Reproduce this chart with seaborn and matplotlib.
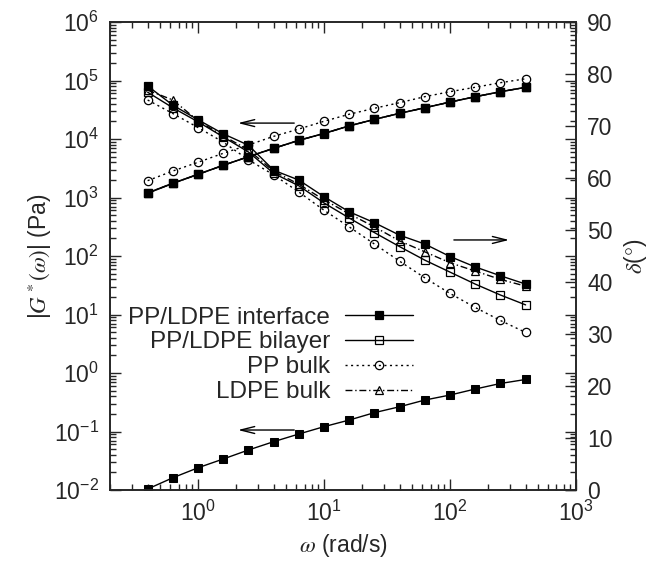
import matplotlib
matplotlib.use('Agg')
import matplotlib.pyplot as plt
import seaborn as sns
import pandas as pd
from matplotlib.ticker import LogLocator, NullFormatter, MultipleLocator

# angular frequency (rad/s)
omega = [0.398, 0.631, 1.0, 1.585, 2.512, 3.981, 6.310, 10.0,
         15.85, 25.12, 39.81, 63.10, 100.0, 158.5, 251.2, 398.1]

# |G*(omega)| in Pa (left axis)
gstar_interface = [1200, 1760, 2500, 3560, 5000, 6950, 9500, 12500,
                   16800, 21700, 27500, 34300, 42900, 52900, 64400, 76600]
gstar_bilayer = [1180, 1740, 2480, 3540, 4970, 6900, 9450, 12400,
                 16700, 21600, 27400, 34100, 42700, 52700, 64100, 76200]
gstar_pp = [1940, 2840, 4000, 5700, 7900, 11100, 14800, 20100,
            26500, 33500, 41800, 52900, 64400, 76600, 91700, 107000]
gstar_ldpe = [1190, 1750, 2490, 3550, 4990, 6920, 9480, 12450,
              16750, 21650, 27450, 34200, 42800, 52800, 64300, 76400]

# phase angle delta in degrees (right axis)
delta_interface = [77.7, 74.0, 71.2, 68.5, 66.3, 61.5, 59.6, 56.4,
                   53.5, 51.4, 49.0, 47.3, 44.9, 42.9, 41.2, 39.6]
delta_bilayer = [76.5, 73.5, 70.8, 67.9, 65.0, 60.9, 58.5, 55.2,
                 52.3, 49.5, 46.8, 44.2, 41.9, 39.6, 37.5, 35.6]
delta_pp = [75.0, 72.4, 69.7, 66.9, 63.5, 60.6, 57.3, 53.8,
            50.6, 47.3, 44.0, 40.8, 37.8, 35.1, 32.6, 30.3]
delta_ldpe = [76.9, 75.0, 71.0, 68.1, 65.4, 61.3, 58.8, 55.8,
              53.1, 50.6, 47.9, 45.8, 43.7, 42.1, 40.5, 39.2]

# lower curve on the left axis
gstar_low = [0.0104, 0.0162, 0.0240, 0.0339, 0.0483, 0.0670, 0.0906, 0.121,
             0.157, 0.210, 0.265, 0.345, 0.420, 0.532, 0.662, 0.775]

labels = ['PP/LDPE interface', 'PP/LDPE bilayer', 'PP bulk', 'LDPE bulk']

sns.set_style('ticks')
plt.rcParams['font.family'] = ['Liberation Sans', 'DejaVu Sans']
plt.rcParams['mathtext.fontset'] = 'stix'
plt.rcParams['xtick.direction'] = 'in'
plt.rcParams['ytick.direction'] = 'in'

fig = plt.figure(figsize=(6.58, 5.65), dpi=100)
ax = fig.add_axes([110 / 658, 75 / 565, 466 / 658, 468 / 565])
ax.set_xscale('log')
ax.set_yscale('log')
ax2 = ax.twinx()

styles = [
    dict(ls='-', marker='s', mfc='black', ms=6),
    dict(ls='-', marker='s', mfc='none', ms=6),
    dict(ls=(0, (1.5, 2.5)), marker='o', mfc='none', ms=6),
    dict(ls=(0, (5, 2, 1, 2)), marker='^', mfc='none', ms=5.5),
]
gstars = [gstar_interface, gstar_bilayer, gstar_pp, gstar_ldpe]
deltas = [delta_interface, delta_bilayer, delta_pp, delta_ldpe]

for lab, st, g, d in zip(labels, styles, gstars, deltas):
    df = pd.DataFrame({'omega': omega, 'gstar': g, 'delta': d})
    sns.lineplot(data=df, x='omega', y='gstar', ax=ax, color='black', lw=1,
                 linestyle=st['ls'], marker=st['marker'], ms=st['ms'],
                 mfc=st['mfc'], mec='black', mew=0.9, legend=False)
    sns.lineplot(data=df, x='omega', y='delta', ax=ax2, color='black', lw=1,
                 linestyle=st['ls'], marker=st['marker'], ms=st['ms'],
                 mfc=st['mfc'], mec='black', mew=0.9, label=lab)

low = pd.DataFrame({'omega': omega, 'gstar': gstar_low})
sns.lineplot(data=low, x='omega', y='gstar', ax=ax, color='black', lw=1,
             marker='s', ms=6, mfc='black', mec='black', legend=False)

ax.set_xlim(0.2, 1000)
ax.set_ylim(1e-2, 1e6)
ax2.set_ylim(0, 90)

fs = 16.5
ax.yaxis.set_major_locator(LogLocator(base=10, numticks=20))
ax.yaxis.set_minor_locator(LogLocator(base=10, subs=range(2, 10), numticks=20))
ax.yaxis.set_minor_formatter(NullFormatter())
ax.xaxis.set_major_locator(LogLocator(base=10, numticks=20))
ax.xaxis.set_minor_locator(LogLocator(base=10, subs=range(2, 10), numticks=20))
ax.xaxis.set_minor_formatter(NullFormatter())
ax.tick_params(which='both', top=True, right=True, labelsize=fs, pad=8)
ax.tick_params(which='major', length=8, width=1)
ax.tick_params(which='minor', length=4, width=1)
ax2.yaxis.set_major_locator(MultipleLocator(10))
ax2.tick_params(which='major', length=8, width=1, labelsize=fs, pad=8)
for a in (ax, ax2):
    for sp in a.spines.values():
        sp.set_linewidth(1.2)

ax.set_xlabel(r'$\omega$ (rad/s)', fontsize=fs, labelpad=4)
ax.set_ylabel(r'|$G^*(\omega)$| (Pa)', fontsize=fs, labelpad=0)
ax2.set_ylabel(r'$\delta$($\degree$)', fontsize=fs, labelpad=7)

arrow = dict(arrowstyle='->,head_length=1.0,head_width=0.25', color='black', lw=1)
ax.annotate('', xy=(1.97, 18700), xytext=(6.1, 18700), arrowprops=arrow)
ax.annotate('', xy=(310, 188), xytext=(102, 188), arrowprops=arrow)
ax.annotate('', xy=(1.97, 0.106), xytext=(6.1, 0.106), arrowprops=arrow)

leg = ax2.legend(loc='upper right', bbox_to_anchor=(0.650, 0.392), frameon=False,
                 markerfirst=False, fontsize=17.5, handlelength=2.8,
                 handletextpad=0.6, labelspacing=0.12, borderaxespad=0,
                 borderpad=0)
for t in leg.get_texts():
    t.set_ha('right')
leg._legend_box.align = 'right'

fig.savefig('out.png', dpi=100)
